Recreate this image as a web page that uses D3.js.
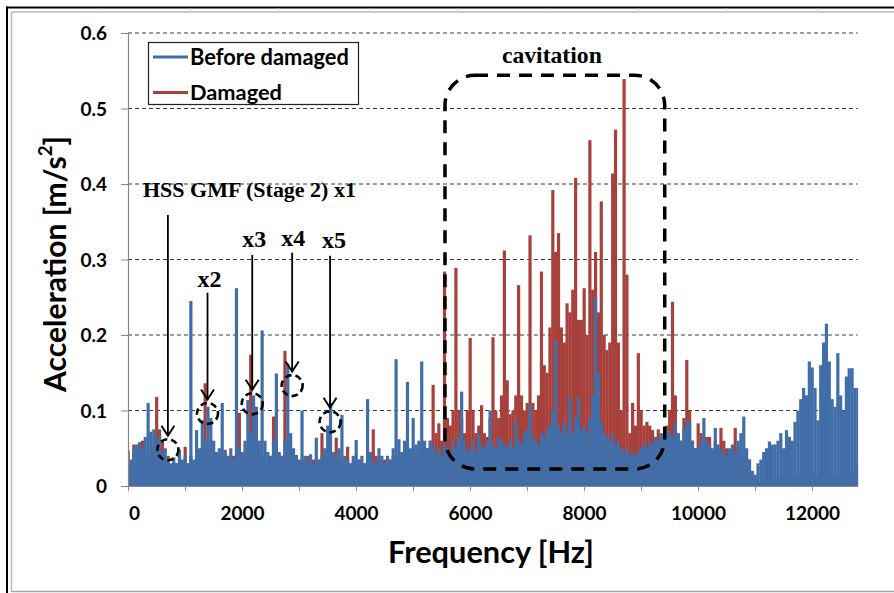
<!DOCTYPE html>
<html><head><meta charset="utf-8">
<script src="https://cdn.jsdelivr.net/npm/d3@7"></script>
<style>body{margin:0;background:#fff}svg{display:block}</style>
</head><body>
<script>
// ---------- DATA ----------
const freqStep = 50; // Hz between spectrum samples (0 .. 12800)
const blueValues = [
0.028,0.035,0.05,0.055,0.058,0.05,0.065,0.11,0.072,0.075,0.06,0.068,0.045,0.05,0.035,0.03,0.038,0.03,0.048,0.035,
0.04,0.03,0.245,0.035,0.074,0.05,0.087,0.06,0.105,0.09,0.06,0.045,0.05,0.11,0.045,0.04,0.05,0.035,0.262,0.05,
0.045,0.06,0.114,0.07,0.12,0.105,0.06,0.206,0.06,0.045,0.04,0.06,0.149,0.045,0.04,0.06,0.162,0.07,0.05,0.04,
0.035,0.1,0.04,0.035,0.042,0.03,0.064,0.035,0.04,0.05,0.08,0.11,0.045,0.04,0.05,0.094,0.04,0.035,0.03,0.04,
0.061,0.035,0.04,0.03,0.115,0.045,0.035,0.03,0.05,0.04,0.03,0.04,0.035,0.05,0.168,0.062,0.045,0.06,0.138,0.05,
0.09,0.055,0.06,0.165,0.06,0.05,0.06,0.055,0.045,0.05,0.04,0.055,0.05,0.045,0.06,0.05,0.065,0.125,0.06,0.045,
0.05,0.06,0.045,0.07,0.055,0.05,0.06,0.1,0.055,0.05,0.065,0.06,0.055,0.05,0.06,0.05,0.087,0.06,0.055,0.07,
0.075,0.107,0.065,0.06,0.055,0.07,0.065,0.075,0.08,0.1,0.193,0.08,0.07,0.085,0.075,0.118,0.07,0.09,0.118,0.075,
0.08,0.07,0.09,0.12,0.25,0.15,0.085,0.07,0.065,0.06,0.07,0.055,0.06,0.05,0.045,0.05,0.04,0.045,0.04,0.045,
0.05,0.055,0.05,0.06,0.055,0.065,0.06,0.07,0.065,0.075,0.07,0.065,0.085,0.07,0.06,0.075,0.087,0.085,0.06,0.05,
0.05,0.06,0.09,0.06,0.055,0.05,0.077,0.055,0.045,0.05,0.04,0.05,0.055,0.045,0.06,0.07,0.092,0.05,0.035,0.02,
0.015,0.03,0.035,0.045,0.05,0.059,0.055,0.055,0.06,0.07,0.05,0.074,0.065,0.06,0.085,0.1,0.115,0.13,0.12,0.165,
0.157,0.13,0.087,0.16,0.19,0.215,0.165,0.115,0.105,0.176,0.12,0.1,0.145,0.156,0.156,0.13,0.13
];
const redValues = [
0.047,0.02,0.055,0.03,0.045,0.06,0.04,0.03,0.045,0.05,0.118,0.075,0.06,0.03,0.04,0.025,0.03,0.03,0.04,0.03,
0.052,0.03,0.04,0.03,0.035,0.04,0.045,0.136,0.05,0.04,0.035,0.04,0.035,0.04,0.048,0.035,0.03,0.04,0.035,0.097,
0.04,0.035,0.05,0.174,0.06,0.04,0.035,0.04,0.035,0.03,0.04,0.092,0.04,0.035,0.04,0.179,0.05,0.04,0.035,0.041,
0.03,0.035,0.03,0.04,0.03,0.035,0.03,0.035,0.07,0.04,0.03,0.035,0.04,0.064,0.035,0.03,0.035,0.052,0.03,0.035,
0.03,0.035,0.03,0.03,0.035,0.04,0.075,0.04,0.035,0.03,0.035,0.03,0.035,0.04,0.035,0.04,0.045,0.04,0.05,0.04,
0.04,0.045,0.04,0.05,0.044,0.05,0.06,0.134,0.07,0.083,0.06,0.284,0.09,0.08,0.1,0.289,0.1,0.09,0.07,0.1,
0.196,0.1,0.07,0.08,0.107,0.07,0.065,0.09,0.197,0.1,0.09,0.12,0.312,0.14,0.095,0.1,0.12,0.266,0.12,0.1,
0.11,0.332,0.11,0.1,0.12,0.284,0.16,0.15,0.21,0.392,0.31,0.335,0.21,0.19,0.242,0.23,0.26,0.408,0.22,0.22,
0.262,0.2,0.458,0.26,0.31,0.23,0.377,0.2,0.18,0.19,0.414,0.472,0.19,0.1,0.539,0.28,0.07,0.11,0.08,0.176,
0.1,0.08,0.085,0.08,0.074,0.065,0.075,0.06,0.07,0.08,0.1,0.244,0.12,0.07,0.06,0.09,0.167,0.1,0.06,0.05,
0.083,0.07,0.05,0.065,0.065,0.04,0.06,0.05,0.077,0.06,0.05,0.045,0.05,0.077,0.05,0.04,0.035,0.03,0.035,0.01,
0.008,0.005,0.006,0.004,0.006,0.005,0.008,0.006,0.01,0.007,0.012,0.008,0.01,0.015,0.012,0.01,0.015,0.02,0.012,0.014,
0.018,0.012,0.015,0.02,0.014,0.025,0.018,0.012,0.015,0.01,0.012,0.018,0.014,0.012,0.015,0.02,0.03
];
const seriesNames = ["Before damaged", "Damaged"];
const xTickValues = [0,1000,2000,3000,4000,5000,6000,7000,8000,9000,10000,11000,12000];
const xLabelValues = [0,2000,4000,6000,8000,10000,12000];
const yTickValues = [0,0.1,0.2,0.3,0.4,0.5,0.6];
const harmonicLabels = ["HSS GMF (Stage 2) x1","x2","x3","x4","x5"];
const harmonicFreqs = [700,1395,2180,2880,3545];
const harmonicCircleAmp = [0.048,0.096,0.109,0.133,0.085];
const harmonicArrowTop = [0.359,0.256,0.306,0.309,0.305];
const cavitationFreqs = [5561, 9416];
const cavitationAmps = [0.0225, 0.544];

// ---------- SETUP ----------
const W = 894, H = 593;
const BLUE = "#416ea8", RED = "#a8403b";
const sans = "Lato, 'Open Sans', sans-serif";
const serif = "'Liberation Serif', 'DejaVu Serif', serif";
const svg = d3.select("body").append("svg").attr("width", W).attr("height", H);

const x = d3.scaleLinear().domain([0, 12800]).range([128, 857.6]);
const y = d3.scaleLinear().domain([0, 0.6]).range([486, 33]);

// frame
const frame = svg.append("g");
frame.append("line").attr("x1",6).attr("x2",W).attr("y1",7.5).attr("y2",7.5).attr("stroke","#000").attr("stroke-width",2);
frame.append("line").attr("x1",7).attr("x2",7).attr("y1",6.5).attr("y2",H).attr("stroke","#000").attr("stroke-width",2);
frame.append("line").attr("x1",11.5).attr("x2",W).attr("y1",12).attr("y2",12).attr("stroke","#b8b8b8").attr("stroke-width",1.5);
frame.append("line").attr("x1",11.5).attr("x2",11.5).attr("y1",12).attr("y2",592).attr("stroke","#b8b8b8").attr("stroke-width",1.5);
frame.append("line").attr("x1",11.5).attr("x2",W).attr("y1",591.5).attr("y2",591.5).attr("stroke","#a8a8a8").attr("stroke-width",1.5);
[100,190,279,369,458,548,638,727,818].forEach(v=>{
  frame.append("line").attr("x1",v).attr("x2",v).attr("y1",8.5).attr("y2",11.5).attr("stroke","#d8dde6").attr("stroke-width",1);
});

// gridlines
svg.append("g").selectAll("line").data(yTickValues.filter(v=>v>0)).join("line")
  .attr("x1", x(0)).attr("x2", x(12800)).attr("y1", d=>y(d)).attr("y2", d=>y(d))
  .attr("stroke","#3a3a3a").attr("stroke-width",1).attr("stroke-dasharray","4,3");

// series
svg.append("clipPath").attr("id","plotclip").append("rect")
  .attr("x", x(0)+0.5).attr("y", y(0.6)-2).attr("width", x(12800)-x(0)).attr("height", y(0)-y(0.6)+2);
const bw = x(freqStep) - x(0);
function drawSeries(vals, color){
  svg.append("g").attr("clip-path","url(#plotclip)").selectAll("rect")
    .data(vals.map((v,i)=>({f:i*freqStep, v}))).join("rect")
    .attr("x", d=>x(d.f)-bw/2).attr("width", bw+0.35)
    .attr("y", d=>y(d.v)).attr("height", d=>y(0)-y(d.v))
    .attr("fill", color);
}
drawSeries(redValues, RED);
drawSeries(blueValues, BLUE);

// axes
const yAxis = svg.append("g").attr("transform",`translate(${x(0)},0)`)
  .call(d3.axisLeft(y).tickValues(yTickValues).tickSize(7).tickPadding(14)
        .tickFormat(d=> d===0 ? "0" : d.toFixed(1)));
yAxis.select(".domain").attr("stroke","#868686").attr("stroke-width",1.2);
yAxis.selectAll(".tick line").attr("stroke","#868686");
yAxis.selectAll("text").attr("font-family",sans).attr("font-weight","bold").attr("font-size",19).attr("fill","#000").attr("dy","0.36em");

const xAxis = svg.append("g").attr("transform",`translate(0,${y(0)})`)
  .call(d3.axisBottom(x).tickValues(xTickValues).tickSize(5).tickSizeOuter(0)
        .tickFormat(d=> xLabelValues.includes(d) ? String(d) : ""));
xAxis.select(".domain").attr("stroke","#868686").attr("stroke-width",1.2);
xAxis.selectAll(".tick line").attr("stroke","#868686");
xAxis.selectAll("text").attr("font-family",sans).attr("font-weight","bold").attr("font-size",19).attr("fill","#000")
  .attr("y", 34).attr("dy", 0);
xAxis.selectAll(".tick").filter(d=>d===0).select("text").attr("x", 6);

function fit(t, w){
  const l = t.node().getComputedTextLength();
  const fs = parseFloat(t.attr("font-size"));
  t.attr("font-size", fs*w/l);
}

// axis titles
const yt = svg.append("text").attr("transform","translate(66,264) rotate(-90)")
  .attr("text-anchor","middle").attr("font-family",sans).attr("font-weight","bold").attr("font-size",26);
yt.append("tspan").text("Acceleration [m/s");
yt.append("tspan").text("2").attr("font-size","0.62em").attr("dy","-0.75em");
yt.append("tspan").text("]").attr("dy","0.46em");
fit(yt, 256);

const xt = svg.append("text").attr("x",491).attr("y",563).attr("text-anchor","middle")
  .attr("font-family",sans).attr("font-weight","bold").attr("font-size",26).text("Frequency [Hz]");
fit(xt, 206);

// legend
const lg = svg.append("g");
lg.append("rect").attr("x",148.5).attr("y",42.5).attr("width",210).attr("height",62)
  .attr("fill","#fff").attr("stroke","#222").attr("stroke-width",1.2);
[BLUE, RED].forEach((c,i)=>{
  const yy = 57 + i*35.5;
  lg.append("line").attr("x1",153).attr("x2",188).attr("y1",yy).attr("y2",yy).attr("stroke",c).attr("stroke-width",3);
  const t = lg.append("text").attr("x",190).attr("y",yy+7.5).attr("font-family",sans).attr("font-weight","bold")
    .attr("font-size",20).text(seriesNames[i]);
  fit(t, i===0 ? 159 : 92);
});

// cavitation box
const cav = svg.append("g");
cav.append("rect").attr("x", x(cavitationFreqs[0])).attr("y", y(cavitationAmps[1]))
  .attr("width", x(cavitationFreqs[1]) - x(cavitationFreqs[0]))
  .attr("height", y(cavitationAmps[0]) - y(cavitationAmps[1]))
  .attr("rx", 30).attr("ry", 30).attr("fill","none").attr("stroke","#000")
  .attr("stroke-width",3.5).attr("stroke-dasharray","13,9");
const ct = cav.append("text").attr("x", (x(cavitationFreqs[0])+x(cavitationFreqs[1]))/2 - 3).attr("y", 63)
  .attr("text-anchor","middle").attr("font-family",serif).attr("font-weight","bold").attr("font-size",20).text("cavitation");
fit(ct, 100);

// harmonic annotations
const an = svg.append("g");
const labelBaseline = [197, 287, 247, 246, 248];
const labelDx = [0, 2, 2, 1, 4];
harmonicFreqs.forEach((f,i)=>{
  const cx = x(f), cy = y(harmonicCircleAmp[i]);
  const top = y(harmonicArrowTop[i]);
  const tip = cy - 14;
  an.append("line").attr("x1",cx).attr("x2",cx).attr("y1",top).attr("y2",tip).attr("stroke","#000").attr("stroke-width",1.8);
  an.append("path").attr("d",`M${cx-6.5},${tip-10}L${cx},${tip}L${cx+6.5},${tip-10}`)
    .attr("fill","none").attr("stroke","#000").attr("stroke-width",1.9);
  an.append("circle").attr("cx",cx).attr("cy",cy).attr("r",10.5).attr("fill","none")
    .attr("stroke","#000").attr("stroke-width",2.6).attr("stroke-dasharray","6.5,4");
  if(i===0){
    const t = an.append("text").attr("x",143).attr("y",labelBaseline[i]).attr("font-family",serif)
      .attr("font-weight","bold").attr("font-size",20).text(harmonicLabels[i]);
    fit(t, 213);
  } else {
    const t = an.append("text").attr("x",cx+labelDx[i]).attr("y",labelBaseline[i]).attr("text-anchor","middle")
      .attr("font-family",serif).attr("font-weight","bold").attr("font-size",20).text(harmonicLabels[i]);
    fit(t, 24);
  }
});
</script>
</body></html>
